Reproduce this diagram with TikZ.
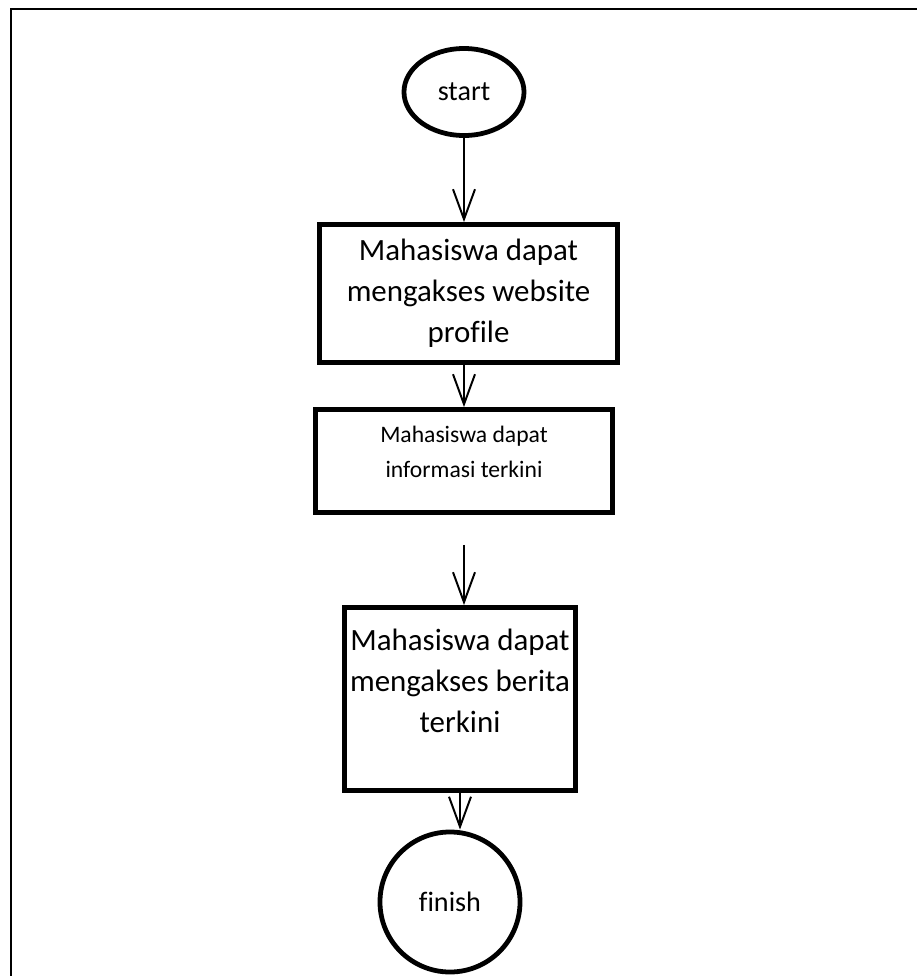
\documentclass[tikz,border=0pt]{standalone}
\usepackage{fontspec}
\setmainfont[Ligatures=NoCommon]{Carlito}
\usetikzlibrary{arrows.meta,shapes.geometric}
\newcommand{\padbelow}[1]{\rule[-#1]{0pt}{#1}}

\begin{document}
\begin{tikzpicture}[x=0.025cm, y=-0.025cm,
    terminal/.style={draw, line width=3.4pt, font=\fontsize{20pt}{24pt}\selectfont},
    process/.style={rectangle, draw, line width=3.4pt, align=center},
    bigtext/.style={font=\fontsize{22pt}{29.2pt}\selectfont},
    smalltext/.style={font=\fontsize{16.8pt}{24.5pt}\selectfont},
    flow/.style={line width=1.4pt, -{Straight Barb[length=7.5mm, width=5.5mm]}}]
  \useasboundingbox (0,0) rectangle (917,976);
  \draw[line width=1.4pt] (11,976) -- (11,9) -- (917,9);

  \node[terminal, ellipse, minimum width=30mm, minimum height=21.75mm] (start) at (464,92) {start};
  \node[process, bigtext, minimum width=74.5mm, minimum height=34.5mm] (web) at (468.5,293.5)
    {Mahasiswa dapat\\mengakses website\\profile};
  \node[process, smalltext, minimum width=74.25mm, minimum height=25.75mm] (info) at (464,461)
    {Mahasiswa dapat\\informasi terkini\padbelow{12.8pt}};
  \node[process, bigtext, minimum width=57.75mm, minimum height=45.75mm] (berita) at (460,699)
    {Mahasiswa dapat\\mengakses berita\\terkini\padbelow{25.6pt}};
  \node[terminal, circle, minimum size=35mm] (finish) at (450,902) {finish};

  \draw[flow] (start) -- (start |- web.north);
  \draw[flow] (web.south -| info) -- (info.north);
  \draw[flow] (info.south) ++(0,30) -- (info.south |- berita.north);
  \draw[flow] (berita.south) -- (berita.south |- finish.north);
\end{tikzpicture}
\end{document}
